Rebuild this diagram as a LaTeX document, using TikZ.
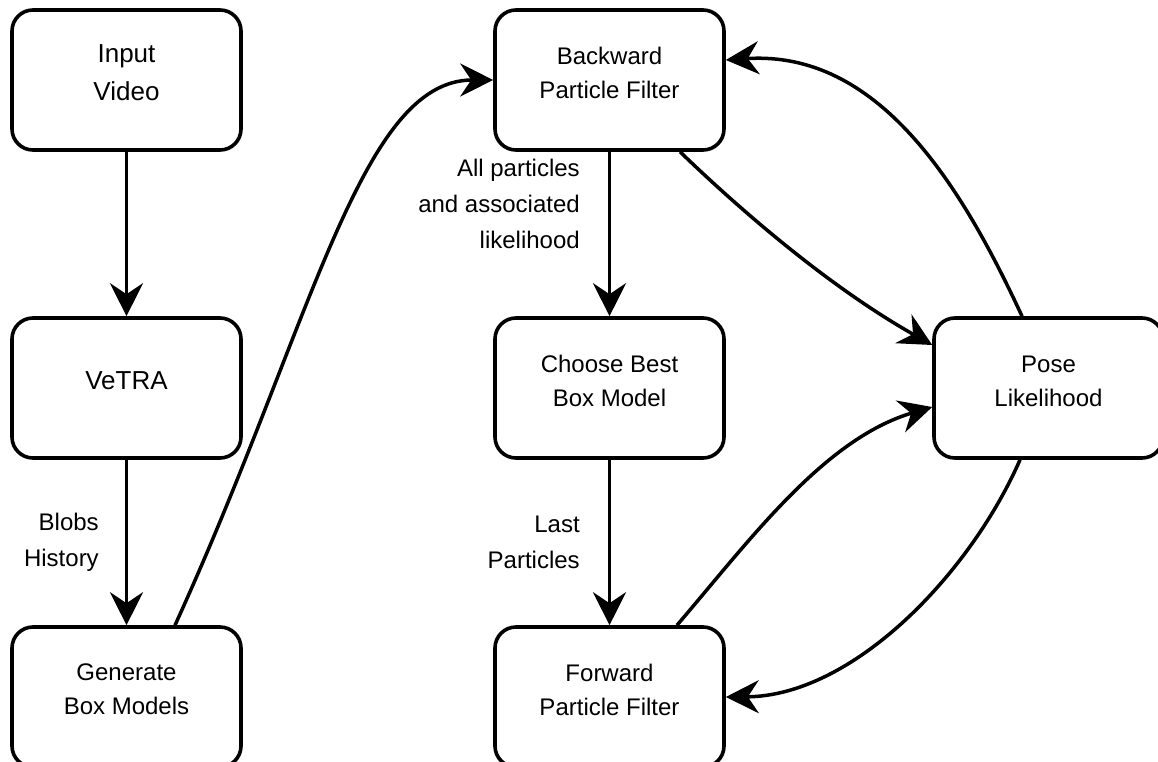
\documentclass[tikz,border=0pt]{standalone}
\usepackage{fontspec}
\setmainfont{Liberation Sans}
\usetikzlibrary{arrows.meta}
\begin{document}
\begin{tikzpicture}[x=1pt,y=-1pt,
  box/.style={draw=black, line width=3.6pt, rounded corners=21pt, minimum width=229pt, minimum height=140pt, inner sep=0pt, fill=white},
  big/.style={align=center, inner sep=0pt, font=\fontsize{26}{38}\selectfont},
  txt/.style={align=center, inner sep=0pt, font=\fontsize{24}{34}\selectfont},
  lab/.style={align=right, inner sep=0pt, font=\fontsize{24}{36}\selectfont},
  conn/.style={line width=3.5pt, -{Stealth[length=33pt,width=33pt,inset=11pt]}},
]
\useasboundingbox (0,0) rectangle (1158,762);
\fill[white] (0,0) rectangle (1158,762);

% boxes
\node[box] (inp) at (126.5,80) {};
\node[big] (inpt) at ([yshift=7.5pt]inp.center) {Input\\Video};
\node[box] (vetra) at (126.5,388) {};
\node[big] (vetrat) at ([yshift=7pt]vetra.center) {VeTRA};
\node[box] (gen) at (126.5,697) {};
\node[txt] (gent) at ([yshift=7.5pt]gen.center) {Generate\\Box Models};

\node[box] (back) at (609.5,80) {};
\node[txt] (backt) at ([yshift=7.5pt]back.center) {Backward\\Particle Filter};
\node[box] (choose) at (609.5,388) {};
\node[txt] (chooset) at ([yshift=7pt]choose.center) {Choose Best\\Box Model};
\node[box] (fwd) at (609.5,697) {};
\node[txt] (fwdt) at ([yshift=7.5pt]fwd.center) {Forward\\Particle Filter};

\node[box] (pose) at (1048.5,388) {};
\node[txt] (poset) at ([yshift=7pt]pose.center) {Pose\\Likelihood};

% straight connectors
\draw[conn] (inp) -- (vetra);
\draw[conn] (vetra) -- node[lab, pos=0.5, left=26pt] (l1) {Blobs\\History} (gen);
\draw[conn] (back) -- node[lab, pos=0.32, left=28pt] (l2) {All particles\\and associated\\likelihood} (choose);
\draw[conn] (choose) -- node[lab, pos=0.5, left=28pt] (l3) {Last\\Particles} (fwd);

% curved connectors
\draw[conn] ([xshift=48.5pt]gen.north) .. controls (312,325) and (360,80) .. (back.west);
\draw[conn] ([xshift=70.5pt]back.south) .. controls (756,225) and (840,293) .. ([yshift=43pt]pose.west);
\draw[conn] ([xshift=67.5pt]fwd.north) .. controls (750,540) and (824,439) .. ([yshift=-19pt]pose.west);
\draw[conn] ([xshift=-28.5pt]pose.south) .. controls (970,574) and (853,696) .. (fwd.east);
\draw[conn] ([xshift=-26.5pt]pose.north) .. controls (960,182) and (877,50) .. ([yshift=20pt]back.east);
\end{tikzpicture}
\end{document}
